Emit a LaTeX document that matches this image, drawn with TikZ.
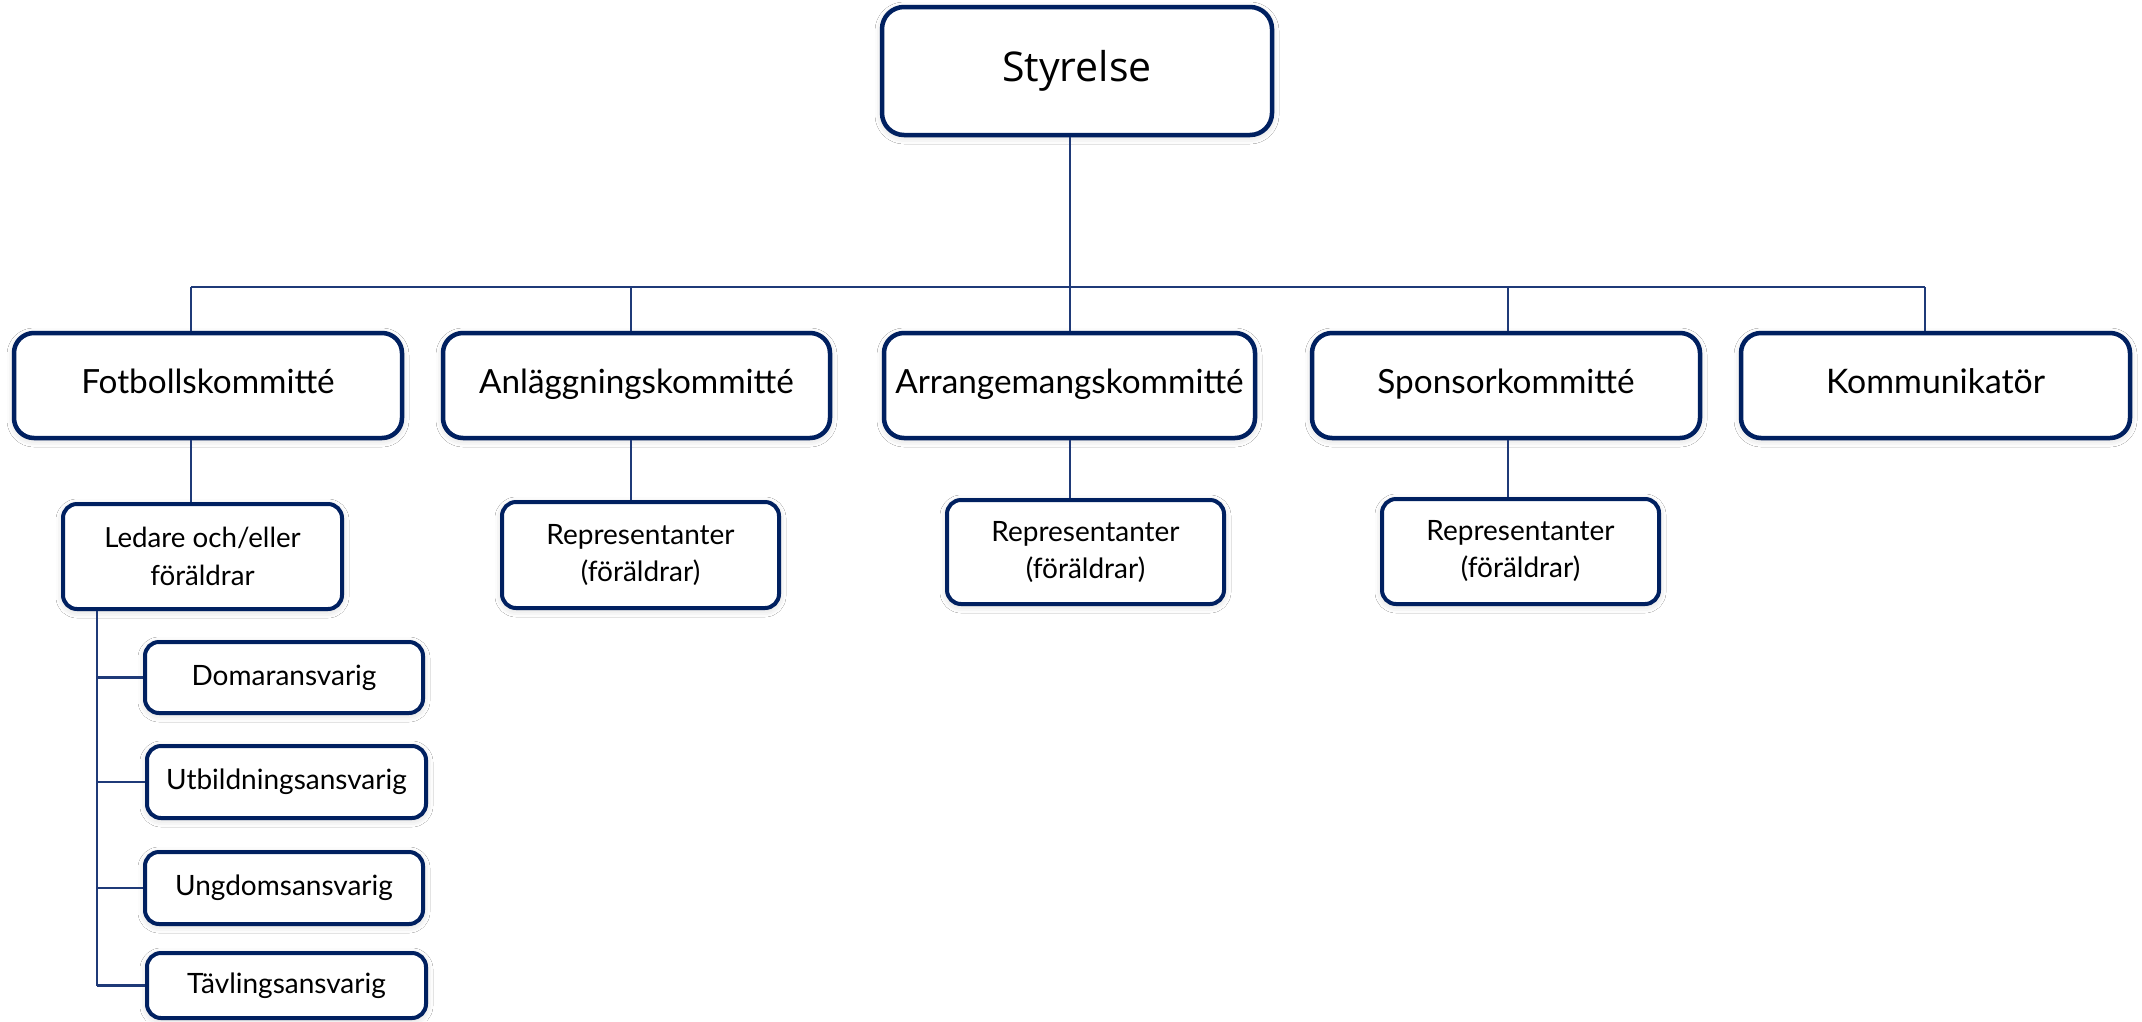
\documentclass[tikz,border=0pt]{standalone}
\usepackage{fontspec}
\setmainfont{Lato}
\newfontfamily\styfont{Open Sans}
\usetikzlibrary{shadows.blur}
\definecolor{navy}{HTML}{002060}
\definecolor{linkc}{HTML}{1F3A78}
\begin{document}
\begin{tikzpicture}[x=1pt,y=-1pt,
  boxbase/.style={draw=navy, fill=white, inner sep=0pt, align=center,
    blur shadow={shadow xshift=0pt, shadow yshift=-2pt, shadow blur radius=7pt, shadow opacity=18}},
  bigbox/.style={boxbase, line width=4.5pt, rounded corners=20pt, font=\fontsize{33.3}{40}\selectfont,
    text height=16pt, text depth=0pt},
  smallbox/.style={boxbase, line width=4pt, rounded corners=14pt, font=\fontsize{28}{37}\selectfont},
  link/.style={draw=linkc, line width=2.8pt}
]
\fill[white] (0,0) rectangle (2142,1021);
\useasboundingbox (0,0) rectangle (2142,1021);

% top
\node[boxbase, line width=4.5pt, rounded corners=22pt, minimum width=390pt, minimum height=128pt, font=\styfont\fontsize{41}{48}\selectfont] (sty) at (1077,71) {Styrelse};

% committees
\node[bigbox, minimum width=388pt, minimum height=105pt] (fot) at (208,385.5) {Fotbollskommitté};
\node[bigbox, minimum width=387pt, minimum height=105pt] (anl) at (636.5,385.5) {Anläggningskommitté};
\node[bigbox, minimum width=371pt, minimum height=105pt] (arr) at (1069.5,385.5) {Arrangemangskommitté};
\node[bigbox, minimum width=388pt, minimum height=105pt] (spo) at (1506,385.5) {Sponsorkommitté};
\node[bigbox, minimum width=389pt, minimum height=105pt, font=\fontsize{33.8}{40}\selectfont] (kom) at (1935.5,385.5) {Kommunikatör};

% second level
\node[smallbox, minimum width=279pt, minimum height=105pt, font=\fontsize{27.7}{38}\selectfont] (led) at (202.5,556.5) {Ledare och/eller\\föräldrar};
\node[smallbox, minimum width=277pt, minimum height=106pt] (rep1) at (640.5,555) {Representanter\\(föräldrar)};
\node[smallbox, minimum width=277pt, minimum height=104pt] (rep2) at (1085.5,552) {Representanter\\(föräldrar)};
\node[smallbox, minimum width=277pt, minimum height=105pt] (rep3) at (1520.5,551.5) {Representanter\\(föräldrar)};

% football sub-roles
\node[smallbox, minimum width=278pt, minimum height=71pt] (dom) at (284,677.5) {Domaransvarig};
\node[smallbox, minimum width=279pt, minimum height=72pt] (utb) at (286.5,782) {Utbildningsansvarig};
\node[smallbox, minimum width=278pt, minimum height=72pt] (ung) at (284,888) {Ungdomsansvarig};
\node[smallbox, minimum width=279pt, minimum height=65pt] (tav) at (286.5,985.5) {Tävlingsansvarig};

% junctions
\coordinate (j0) at (1070,287);
\coordinate (j1) at (191,287);
\coordinate (j2) at (631,287);
\coordinate (j3) at (1070,287);
\coordinate (j4) at (1508,287);
\coordinate (j5) at (1925,287);
\coordinate (sp) at (97,985.5);

\draw[link] (sty.south -| j0) -- (j0);
\draw[link] (j1) -- (j5);
\foreach \j/\n in {j1/fot, j2/anl, j3/arr, j4/spo, j5/kom}
  \draw[link] (\j) -- (\j |- \n.north);
\draw[link] (fot.south -| j1) -- (led.north -| j1);
\draw[link] (anl.south -| j2) -- (rep1.north -| j2);
\draw[link] (arr.south -| j3) -- (rep2.north -| j3);
\draw[link] (spo.south -| j4) -- (rep3.north -| j4);
\draw[link] (led.south -| sp) -- (sp);
\foreach \n in {dom, utb, ung, tav}
  \draw[link] (\n.west -| sp) -- (\n.west);
\end{tikzpicture}
\end{document}
